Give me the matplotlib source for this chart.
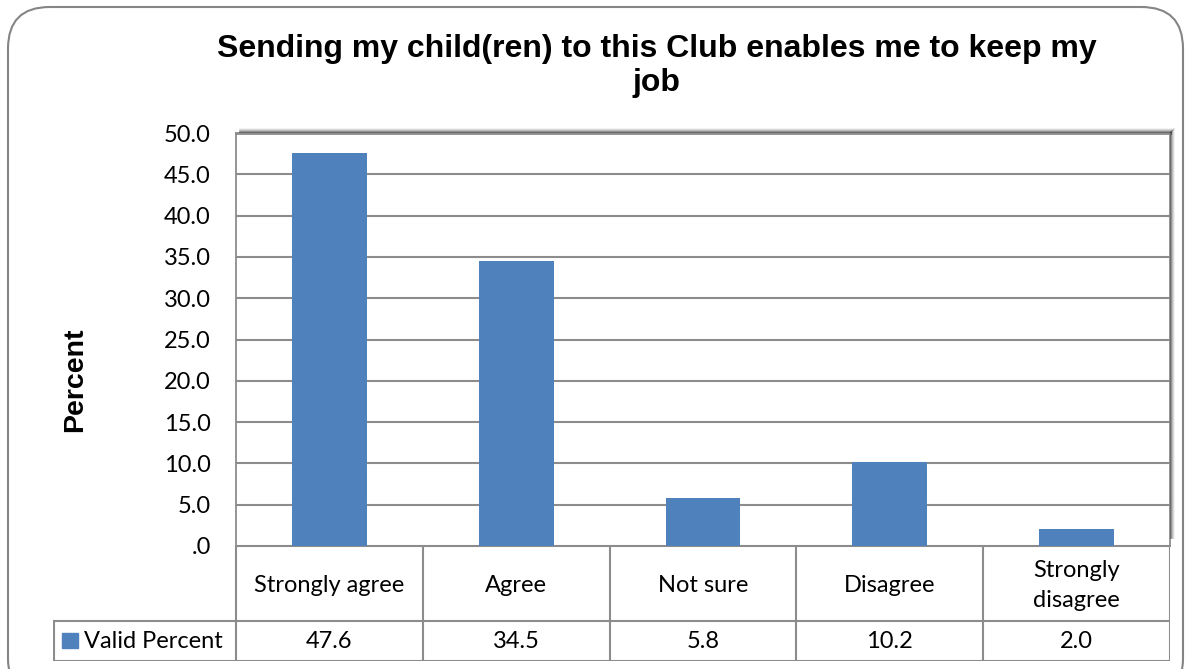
import matplotlib.pyplot as plt
from matplotlib.patches import FancyBboxPatch, Rectangle
import numpy as np

categories = ["Strongly agree", "Agree", "Not sure", "Disagree", "Strongly\ndisagree"]
valid_percent = [47.6, 34.5, 5.8, 10.2, 2.0]
yticks = [0, 5, 10, 15, 20, 25, 30, 35, 40, 45, 50]
ytick_labels = [".0", "5.0", "10.0", "15.0", "20.0", "25.0", "30.0", "35.0", "40.0", "45.0", "50.0"]

W, H = 1190, 669
bar_color = "#4F81BD"
grid_color = "#8C8C8C"
body_font = ["Lato", "DejaVu Sans"]
head_font = ["Liberation Sans", "DejaVu Sans"]
fs = 17

fig = plt.figure(figsize=(W / 100, H / 100), dpi=100)


def fx(px):
    return px / W


def fy(py):
    return 1 - py / H


# rounded chart frame
frame = FancyBboxPatch((fx(8), fy(700)), fx(1183 - 8), (700 - 7) / H,
                       boxstyle="round,pad=0,rounding_size=0.035",
                       transform=fig.transFigure, facecolor="white",
                       edgecolor="#858585", linewidth=1.5, zorder=-5,
                       mutation_aspect=W / H)
fig.patches.append(frame)

# plot area
L, R, T, B = 236, 1170, 133, 546
ax = fig.add_axes([fx(L), fy(B), fx(R - L), (B - T) / H])

# soft shadow along top and right of plot area
for i, a in enumerate([0.35, 0.22, 0.12, 0.06]):
    fig.add_artist(plt.Line2D([fx(L + 4), fx(R + 1 + i)], [fy(T - 1 - i)] * 2,
                              transform=fig.transFigure, color="black",
                              alpha=a, lw=1.2, zorder=1))
    fig.add_artist(plt.Line2D([fx(R + 1 + i)] * 2, [fy(T - 1 - i), fy(B - 8)],
                              transform=fig.transFigure, color="black",
                              alpha=a, lw=1.2, zorder=1))

x = np.arange(len(categories))
ax.bar(x, valid_percent, width=0.4, color=bar_color, zorder=3)
ax.set_xlim(-0.5, len(categories) - 0.5)
ax.set_ylim(0, 50)
ax.set_yticks(yticks)
ax.set_yticklabels(ytick_labels, fontsize=fs, family=body_font)
ax.set_xticks([])
ax.tick_params(axis="y", length=0, pad=18)
ax.yaxis.grid(True, color=grid_color, lw=1.5, zorder=1)
for s in ["left", "top", "right", "bottom"]:
    ax.spines[s].set_color(grid_color)
    ax.spines[s].set_linewidth(1.3)
ax.spines["top"].set_linewidth(2)

fig.text(fx(75), fy(380), "Percent", rotation=90, ha="center", va="center",
         fontsize=20.5, fontweight="bold", family=head_font)
fig.text(fx(657), fy(66), "Sending my child(ren) to this Club enables me to keep my\njob",
         ha="center", va="center", fontsize=23, fontweight="bold",
         family=head_font, linespacing=1.2)

# data table under the plot area
row1, row2, row3 = 546, 621, 661
key_left = 53
unit = (R - L) / len(categories)
x0 = -0.5 - (L - key_left) / unit
tx = fig.add_axes([fx(key_left), fy(row3), fx(R - key_left), (row3 - row1) / H])
tx.set_xlim(x0, len(categories) - 0.5)
tx.set_ylim(row3, row1)
tx.axis("off")
lc = "#8C8C8C"
tx.plot([-0.5, len(categories) - 0.5], [row1, row1], color=lc, lw=1.5)
tx.plot([x0, len(categories) - 0.5], [row2, row2], color=lc, lw=1.5)
tx.plot([x0, len(categories) - 0.5], [row3, row3], color=lc, lw=1.5)
tx.plot([x0 + 0.005, x0 + 0.005], [row2, row3], color=lc, lw=1.5)
for b in np.arange(len(categories) + 1) - 0.5:
    tx.plot([b, b], [row1, row3], color=lc, lw=1.5)
for i, (c, v) in enumerate(zip(categories, valid_percent)):
    tx.text(i, (row1 + row2) / 2 + 2, c, ha="center", va="center", fontsize=fs,
            family=body_font, linespacing=1.55)
    tx.text(i, (row2 + row3) / 2 + 1, f"{v:.1f}", ha="center", va="center",
            fontsize=fs, family=body_font)
tx.add_patch(Rectangle((x0 + 9 / unit, 648), 16 / unit, -15, color=bar_color))
tx.text(x0 + 31 / unit, (row2 + row3) / 2 + 1, "Valid Percent", ha="left",
        va="center", fontsize=fs, family=body_font)

fig.savefig("out.png", dpi=100)
